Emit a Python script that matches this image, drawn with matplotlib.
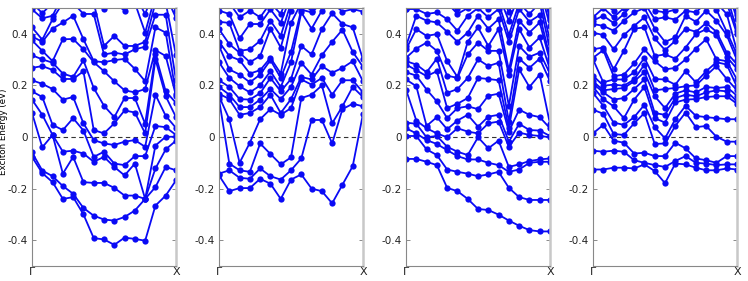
import numpy as np
import matplotlib
matplotlib.use("Agg")
from matplotlib import pyplot as plt

# 15 k-points from Gamma to X
kpts = np.arange(15)

# energies of the states that leave the window at the top (not visible)
above = [0.52, 0.55, 0.58, 0.62, 0.66, 0.70, 0.74, 0.78, 0.82, 0.86, 0.90, 0.94, 0.98, 1.02]

# exciton energies (eV) read per k-point, panel 1
p1 = [
    [-0.077, -0.06, 0.093, 0.145, 0.177, 0.22, 0.268, 0.317, 0.375, 0.39, 0.425, 0.495],
    [-0.14, -0.13, -0.04, 0.086, 0.155, 0.206, 0.275, 0.301, 0.334, 0.369, 0.377, 0.46, 0.48],
    [-0.175, -0.152, 0.008, 0.008, 0.047, 0.186, 0.26, 0.288, 0.294, 0.42, 0.457, 0.47],
    [-0.24, -0.19, -0.142, -0.057, 0.027, 0.145, 0.225, 0.246, 0.379, 0.444],
    [-0.233, -0.22, -0.077, -0.053, 0.073, 0.155, 0.225, 0.233, 0.38, 0.47],
    [-0.30, -0.275, -0.175, -0.064, 0.025, 0.053, 0.255, 0.297, 0.34, 0.379, 0.477],
    [-0.392, -0.305, -0.178, -0.096, -0.077, -0.012, 0.027, 0.19, 0.29, 0.294, 0.477],
    [-0.397, -0.32, -0.178, -0.077, -0.057, -0.025, 0.014, 0.121, 0.255, 0.29, 0.32, 0.353, 0.495],
    [-0.418, -0.324, -0.197, -0.116, -0.103, -0.031, 0.053, 0.077, 0.216, 0.298, 0.327, 0.392],
    [-0.39, -0.31, -0.227, -0.149, -0.109, -0.018, 0.103, 0.151, 0.181, 0.303, 0.32, 0.353, 0.49],
    [-0.395, -0.285, -0.227, -0.103, -0.074, -0.012, 0.095, 0.151, 0.173, 0.264, 0.34, 0.353],
    [-0.402, -0.24, -0.24, -0.24, -0.074, -0.038, 0.014, 0.051, 0.186, 0.216, 0.35, 0.369, 0.405, 0.477],
    [-0.266, -0.194, -0.122, -0.033, 0.043, 0.164, 0.301, 0.32, 0.337, 0.425, 0.474],
    [-0.227, -0.116, -0.048, 0.001, 0.038, 0.082, 0.158, 0.177, 0.314, 0.405, 0.474],
    [-0.168, -0.129, -0.014, 0.001, 0.008, 0.035, 0.077, 0.132, 0.16, 0.168, 0.22, 0.317, 0.461, 0.487],
]

# panel 2
p2 = [
    [-0.149, -0.142, 0.147, 0.158, 0.168, 0.194, 0.22, 0.29, 0.353, 0.369, 0.418, 0.447, 0.49],
    [-0.21, -0.129, -0.103, 0.069, 0.147, 0.164, 0.194, 0.229, 0.262, 0.314, 0.36, 0.442, 0.477],
    [-0.198, -0.158, -0.129, -0.1, 0.086, 0.116, 0.147, 0.197, 0.242, 0.298, 0.327, 0.334, 0.382, 0.464, 0.496],
    [-0.198, -0.162, -0.135, -0.022, 0.093, 0.116, 0.145, 0.173, 0.212, 0.246, 0.29, 0.34, 0.438, 0.49],
    [-0.162, -0.122, -0.025, 0.069, 0.116, 0.145, 0.17, 0.2, 0.242, 0.259, 0.314, 0.373, 0.438, 0.464],
    [-0.181, -0.152, -0.066, 0.108, 0.164, 0.186, 0.229, 0.255, 0.298, 0.307, 0.42, 0.451, 0.495],
    [-0.24, -0.165, -0.106, 0.086, 0.093, 0.147, 0.177, 0.194, 0.229, 0.246, 0.347, 0.392, 0.442, 0.477],
    [-0.165, -0.129, -0.079, 0.112, 0.147, 0.194, 0.225, 0.29, 0.33, 0.442, 0.49],
    [-0.145, -0.083, 0.151, 0.223, 0.233, 0.288, 0.353, 0.483, 0.494],
    [-0.2, 0.066, 0.164, 0.203, 0.223, 0.242, 0.32, 0.42, 0.483, 0.49],
    [-0.21, 0.066, 0.2, 0.229, 0.275, 0.317, 0.418, 0.49],
    [-0.257, -0.025, 0.053, 0.164, 0.249, 0.369, 0.48],
    [-0.185, 0.108, 0.119, 0.22, 0.268, 0.416, 0.438, 0.486],
    [-0.113, 0.129, 0.194, 0.22, 0.294, 0.33, 0.425, 0.496],
    [0.09, 0.119, 0.155, 0.173, 0.216, 0.272, 0.301, 0.486],
]

# panel 3
p3 = [
    [-0.085, 0.004, 0.034, 0.056, 0.184, 0.223, 0.251, 0.281, 0.294, 0.307, 0.34, 0.353, 0.496, 0.496],
    [-0.085, 0.004, 0.014, 0.051, 0.064, 0.197, 0.238, 0.259, 0.281, 0.343, 0.418, 0.47, 0.496],
    [-0.096, -0.048, -0.012, -0.001, 0.034, 0.043, 0.184, 0.236, 0.251, 0.366, 0.392, 0.451, 0.477],
    [-0.109, -0.07, -0.027, 0.004, 0.014, 0.077, 0.138, 0.255, 0.304, 0.334, 0.399, 0.444, 0.483],
    [-0.197, -0.126, -0.051, -0.038, -0.001, 0.03, 0.073, 0.112, 0.171, 0.238, 0.294, 0.408, 0.457],
    [-0.21, -0.135, -0.074, -0.057, 0.034, 0.064, 0.112, 0.129, 0.186, 0.229, 0.233, 0.369, 0.412, 0.477, 0.496],
    [-0.24, -0.142, -0.087, -0.07, 0.021, 0.086, 0.119, 0.151, 0.229, 0.32, 0.369, 0.405, 0.47, 0.5],
    [-0.279, -0.152, -0.087, -0.001, 0.014, 0.04, 0.108, 0.229, 0.301, 0.366, 0.425, 0.47, 0.5],
    [-0.283, -0.145, -0.1, -0.044, 0.053, 0.079, 0.16, 0.225, 0.275, 0.334, 0.353, 0.42, 0.464, 0.496],
    [-0.301, -0.135, -0.109, -0.014, 0.06, 0.086, 0.168, 0.22, 0.288, 0.334, 0.418, 0.457, 0.496],
    [-0.324, -0.197, -0.135, -0.116, -0.038, -0.018, 0.021, 0.034, 0.06, 0.121, 0.242, 0.259, 0.369, 0.395, 0.451, 0.483],
    [-0.344, -0.233, -0.126, -0.106, 0.017, 0.051, 0.106, 0.262, 0.304, 0.353, 0.418, 0.451, 0.496],
    [-0.361, -0.244, -0.1, -0.093, 0.008, 0.027, 0.086, 0.194, 0.268, 0.311, 0.347, 0.405, 0.447, 0.477],
    [-0.366, -0.244, -0.096, -0.087, 0.004, 0.025, 0.077, 0.242, 0.304, 0.327, 0.386, 0.444, 0.473],
    [-0.366, -0.244, -0.096, -0.083, -0.001, 0.004, 0.034, 0.051, 0.216, 0.246, 0.262, 0.294, 0.307, 0.34, 0.373, 0.431, 0.455, 0.47],
]

# panel 4
p4 = [
    [-0.126, -0.053, 0.014, 0.106, 0.171, 0.194, 0.207, 0.216, 0.238, 0.301, 0.307, 0.34, 0.405, 0.438, 0.451, 0.464],
    [-0.126, -0.057, 0.047, 0.09, 0.121, 0.147, 0.173, 0.181, 0.199, 0.212, 0.337, 0.347, 0.395, 0.431, 0.47, 0.5],
    [-0.119, -0.053, -0.014, 0.012, 0.056, 0.119, 0.145, 0.186, 0.203, 0.223, 0.236, 0.262, 0.34, 0.412, 0.442, 0.464, 0.49],
    [-0.119, -0.057, -0.022, 0.008, 0.047, 0.073, 0.151, 0.19, 0.199, 0.223, 0.242, 0.334, 0.395, 0.451, 0.477, 0.5],
    [-0.122, -0.09, -0.064, 0.053, 0.077, 0.145, 0.186, 0.216, 0.223, 0.251, 0.285, 0.42, 0.431, 0.483],
    [-0.106, -0.1, -0.061, 0.093, 0.125, 0.194, 0.223, 0.251, 0.281, 0.307, 0.34, 0.425, 0.464, 0.5],
    [-0.132, -0.109, -0.074, -0.027, 0.038, 0.073, 0.093, 0.158, 0.181, 0.225, 0.294, 0.314, 0.382, 0.42, 0.457, 0.49],
    [-0.179, -0.116, -0.074, -0.025, -0.005, 0.056, 0.086, 0.112, 0.186, 0.223, 0.262, 0.32, 0.337, 0.369, 0.464, 0.483, 0.5],
    [-0.103, -0.093, -0.022, 0.043, 0.069, 0.134, 0.151, 0.168, 0.19, 0.203, 0.268, 0.304, 0.373, 0.386, 0.455, 0.494],
    [-0.106, -0.074, -0.044, 0.095, 0.121, 0.145, 0.164, 0.181, 0.197, 0.255, 0.301, 0.347, 0.42, 0.47, 0.49],
    [-0.119, -0.1, -0.083, 0.038, 0.082, 0.147, 0.158, 0.173, 0.2, 0.212, 0.343, 0.399, 0.408, 0.447, 0.483],
    [-0.129, -0.103, -0.09, 0.043, 0.077, 0.155, 0.173, 0.194, 0.238, 0.255, 0.379, 0.418, 0.442, 0.49],
    [-0.129, -0.109, -0.1, 0.001, 0.073, 0.158, 0.181, 0.19, 0.275, 0.29, 0.301, 0.395, 0.408, 0.451, 0.494],
    [-0.122, -0.106, -0.074, -0.018, 0.069, 0.158, 0.177, 0.194, 0.225, 0.281, 0.294, 0.311, 0.327, 0.395, 0.408, 0.477],
    [-0.126, -0.106, -0.074, -0.018, 0.069, 0.129, 0.138, 0.16, 0.181, 0.194, 0.223, 0.264, 0.281, 0.298, 0.32, 0.334, 0.399, 0.412, 0.457, 0.473],
]

ytick_vals = [-0.4, -0.2, 0, 0.2, 0.4]
ytick_txt = ["-0.4", "-0.2", "0", "0.2", "0.4"]


def bands(cols, n):
    # sort each k-point and fill up with the states above the window,
    # then band i = i-th state at every k-point
    rows = []
    for c in cols:
        c = sorted(c)
        rows.append(c + above[:n - len(c)])
    return np.array(rows).T


panels = [(p1, 18), (p2, 19), (p3, 22), (p4, 24)]

fig = plt.figure(figsize=(7.48, 2.81), dpi=100)
for k, (cols, n) in enumerate(panels):
    ax = fig.add_axes([0.0428 + 0.25 * k, 0.0534, 0.1925, 0.918])
    for b in bands(cols, n):
        ax.plot(kpts, b, '-o', color='#0a0af5', lw=1.3, ms=4.5, mew=0)
    ax.axhline(0, color='#333333', ls='--', lw=0.8, dashes=(4, 3), zorder=0)
    ax.set_xlim(0, 14)
    ax.set_ylim(-0.5, 0.5)
    ax.set_yticks(ytick_vals)
    ax.set_yticklabels(ytick_txt)
    ax.set_xticks([0, 14])
    ax.set_xticklabels(['Γ', 'X'])
    ax.tick_params(axis='y', direction='in', length=3, width=0.6, color='#777777',
                   left=True, right=True, labelsize=7.5, labelcolor='#222222', pad=3)
    ax.tick_params(axis='x', length=0, labelsize=8, labelcolor='#222222', pad=1)
    for s in ['left', 'bottom', 'top']:
        ax.spines[s].set_color('#888888')
        ax.spines[s].set_linewidth(0.8)
    ax.spines['right'].set_color('#c8c8c8')
    ax.spines['right'].set_linewidth(1.8)
    if k == 0:
        ax.set_ylabel('Exciton Energy (eV)', fontsize=6.3)
        ax.yaxis.set_label_coords(-0.165, 0.52)

fig.savefig('out.png', dpi=100)
